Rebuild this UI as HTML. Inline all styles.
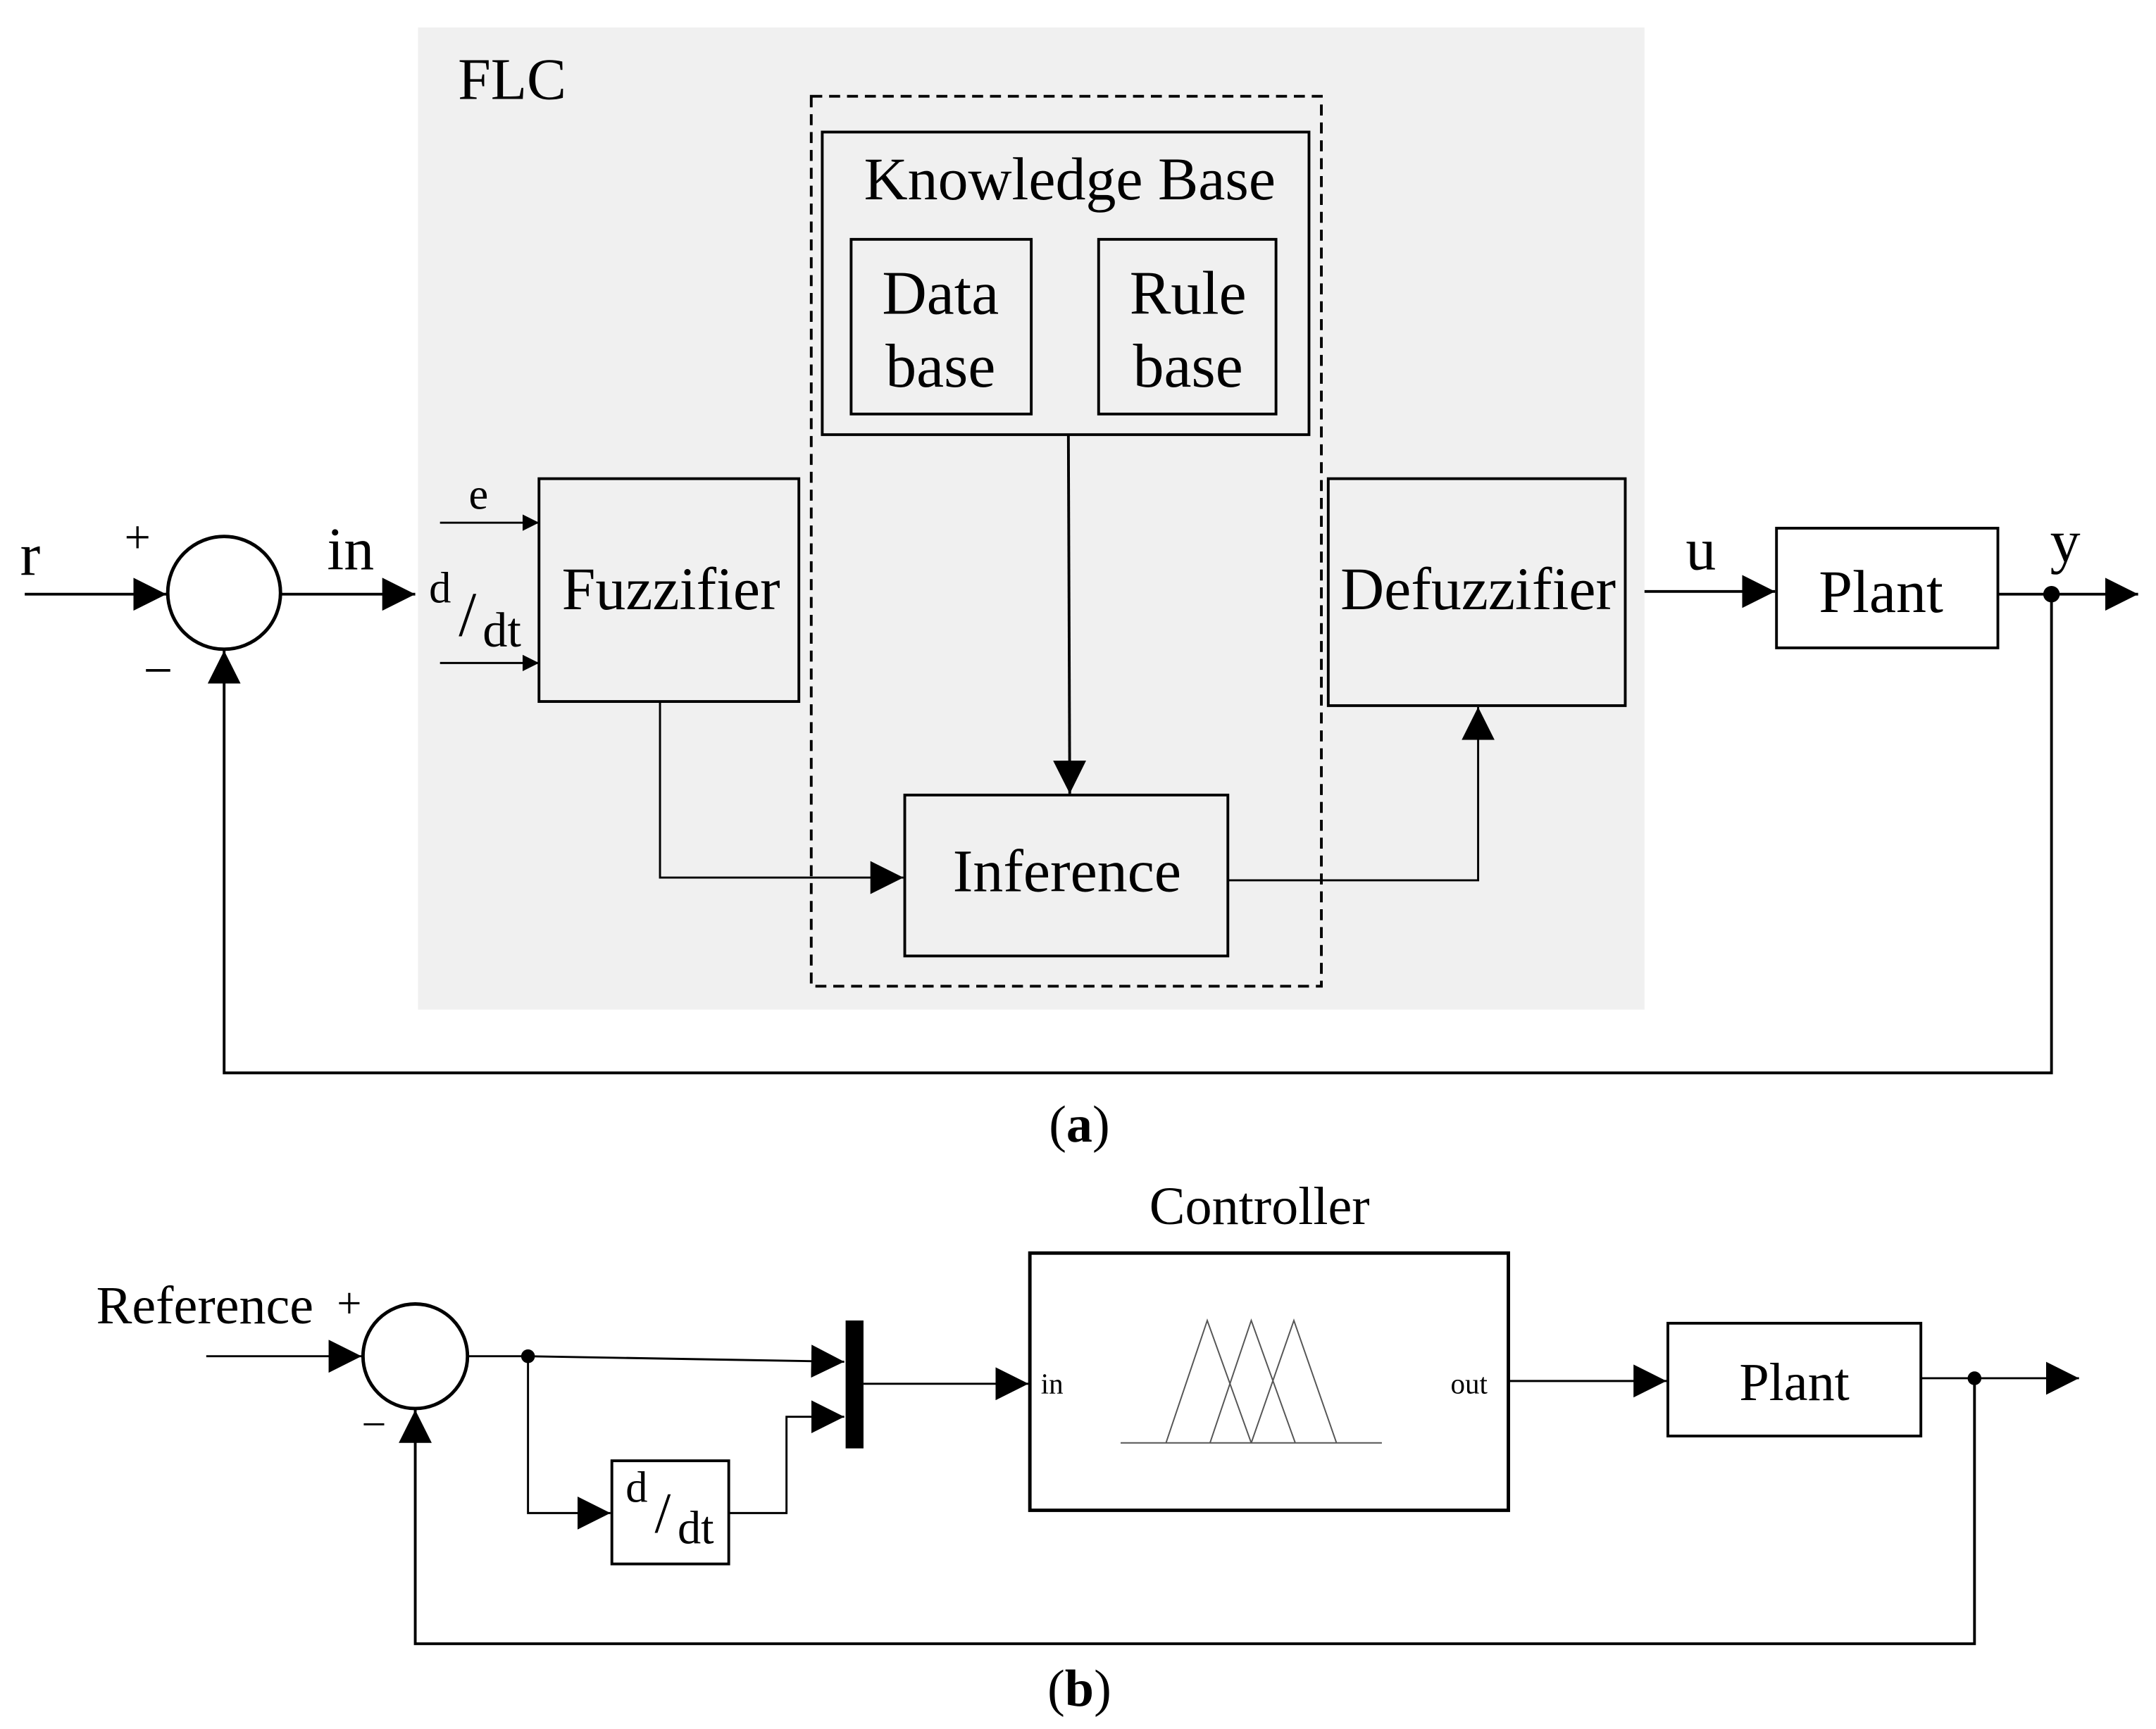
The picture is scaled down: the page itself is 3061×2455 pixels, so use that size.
<!DOCTYPE html>
<html><head><meta charset="utf-8"><style>
html,body{margin:0;padding:0;background:#fff;}
svg{display:block;}
text{font-family:"Liberation Serif",serif;fill:#000;}
</style></head><body>
<svg width="3061" height="2455" viewBox="0 0 1568 1257" preserveAspectRatio="none" xmlns="http://www.w3.org/2000/svg">
<defs>
<marker id="a" viewBox="0 0 10 10" refX="10" refY="5" markerWidth="24" markerHeight="24" markerUnits="userSpaceOnUse" orient="auto"><path d="M0,0 L10,5 L0,10 z" fill="#000"/></marker>
<marker id="s" viewBox="0 0 10 10" refX="10" refY="5" markerWidth="12" markerHeight="12" markerUnits="userSpaceOnUse" orient="auto"><path d="M0,0 L10,5 L0,10 z" fill="#000"/></marker>
</defs>
<g fill="none" stroke="#000" stroke-width="2">
<rect x="304" y="20" width="892" height="714" fill="#f0f0f0" stroke="none"/>
<rect x="590" y="70" width="371" height="647" stroke-dasharray="8,5"/>
<rect x="598" y="96" width="354" height="220"/>
<rect x="619" y="174" width="131" height="127"/>
<rect x="799" y="174" width="129" height="127"/>
<rect x="392" y="348" width="189" height="162"/>
<rect x="966" y="348" width="216" height="165"/>
<rect x="658" y="578" width="235" height="117"/>
<rect x="1292" y="384" width="161" height="87"/>
<circle cx="163" cy="431" r="41" stroke-width="2.5"/>
<line x1="18" y1="432" x2="121" y2="432" marker-end="url(#a)"/>
<line x1="205" y1="432" x2="302" y2="432" marker-end="url(#a)"/>
<line x1="320" y1="380" x2="392" y2="380" stroke-width="1.5" marker-end="url(#s)"/>
<line x1="320" y1="482" x2="392" y2="482" stroke-width="1.5" marker-end="url(#s)"/>
<line x1="777" y1="316" x2="778" y2="577" marker-end="url(#a)"/>
<polyline points="480,510 480,638 657,638" stroke-width="1.5" marker-end="url(#a)"/>
<polyline points="893,640 1075,640 1075,514" stroke-width="1.5" marker-end="url(#a)"/>
<line x1="1196" y1="430" x2="1291" y2="430" marker-end="url(#a)"/>
<line x1="1453" y1="432" x2="1555" y2="432" marker-end="url(#a)"/>
<polyline points="1492,432 1492,780 163,780 163,473" marker-end="url(#a)"/>
<rect x="749" y="911" width="348" height="187" stroke-width="2.5"/>
<rect x="1213" y="962" width="184" height="82"/>
<rect x="445" y="1062" width="85" height="75"/>
<circle cx="302" cy="986" r="38" stroke-width="2.5"/>
<line x1="150" y1="986" x2="263" y2="986" stroke-width="1.5" marker-end="url(#a)"/>
<line x1="340" y1="986" x2="384" y2="986" stroke-width="1.5"/>
<line x1="384" y1="986" x2="614" y2="990" stroke-width="1.5" marker-end="url(#a)"/>
<polyline points="384,986 384,1100 444,1100" stroke-width="1.5" marker-end="url(#a)"/>
<polyline points="530,1100 572,1100 572,1030 614,1030" stroke-width="1.5" marker-end="url(#a)"/>
<line x1="628" y1="1006" x2="748" y2="1006" stroke-width="1.5" marker-end="url(#a)"/>
<line x1="1097" y1="1004" x2="1212" y2="1004" stroke-width="1.5" marker-end="url(#a)"/>
<line x1="1397" y1="1002" x2="1512" y2="1002" stroke-width="1.5" marker-end="url(#a)"/>
<polyline points="1436,1002 1436,1195 302,1195 302,1025" stroke-width="2" marker-end="url(#a)"/>
<g stroke="#555" stroke-width="1">
<line x1="815" y1="1049" x2="1005" y2="1049"/>
<polyline points="848,1049 878,960 910,1049"/>
<polyline points="880,1049 910,960 942,1049"/>
<polyline points="910,1049 941,960 972,1049"/>
</g>
</g>
<rect x="615" y="960" width="13" height="93" fill="#000"/>
<circle cx="1492" cy="432" r="6" fill="#000"/>
<circle cx="384" cy="986" r="5" fill="#000"/>
<circle cx="1436" cy="1002" r="5" fill="#000"/>
<text x="333" y="72" font-size="43">FLC</text>
<text x="778" y="145" font-size="44" text-anchor="middle">Knowledge Base</text>
<text x="684" y="228" font-size="45" text-anchor="middle">Data</text>
<text x="684" y="281" font-size="45" text-anchor="middle">base</text>
<text x="864" y="228" font-size="45" text-anchor="middle">Rule</text>
<text x="864" y="281" font-size="45" text-anchor="middle">base</text>
<text x="488" y="443" font-size="44" text-anchor="middle">Fuzzifier</text>
<text x="1075" y="443" font-size="44" text-anchor="middle">Defuzzifier</text>
<text x="776" y="648" font-size="44" text-anchor="middle">Inference</text>
<text x="1368" y="445" font-size="44" text-anchor="middle">Plant</text>
<text x="22" y="418" font-size="44" text-anchor="middle">r</text>
<text x="100" y="402" font-size="34" text-anchor="middle">+</text>
<text x="115" y="500" font-size="38" text-anchor="middle">−</text>
<text x="255" y="414" font-size="44" text-anchor="middle">in</text>
<text x="348" y="370" font-size="32" text-anchor="middle">e</text>
<text x="320" y="438" font-size="32" text-anchor="middle">d</text>
<text x="340" y="462" font-size="46" text-anchor="middle">/</text>
<text x="365" y="470" font-size="36" text-anchor="middle">dt</text>
<text x="1237" y="414" font-size="44" text-anchor="middle">u</text>
<text x="1502" y="408" font-size="44" text-anchor="middle">y</text>
<text x="785" y="830" font-size="38" text-anchor="middle">(<tspan font-weight="bold">a</tspan>)</text>
<text x="916" y="890" font-size="39" text-anchor="middle">Controller</text>
<text x="149" y="962" font-size="39" text-anchor="middle">Reference</text>
<text x="254" y="958" font-size="32" text-anchor="middle">+</text>
<text x="272" y="1046" font-size="32" text-anchor="middle">−</text>
<text x="463" y="1092" font-size="32" text-anchor="middle">d</text>
<text x="482" y="1114" font-size="42" text-anchor="middle">/</text>
<text x="506" y="1122" font-size="34" text-anchor="middle">dt</text>
<text x="757" y="1013" font-size="21" font-family="Liberation Sans,sans-serif">in</text>
<text x="1055" y="1013" font-size="21" font-family="Liberation Sans,sans-serif">out</text>
<text x="1305" y="1018" font-size="39" text-anchor="middle">Plant</text>
<text x="785" y="1240" font-size="38" text-anchor="middle">(<tspan font-weight="bold">b</tspan>)</text>
</svg>
</body></html>
